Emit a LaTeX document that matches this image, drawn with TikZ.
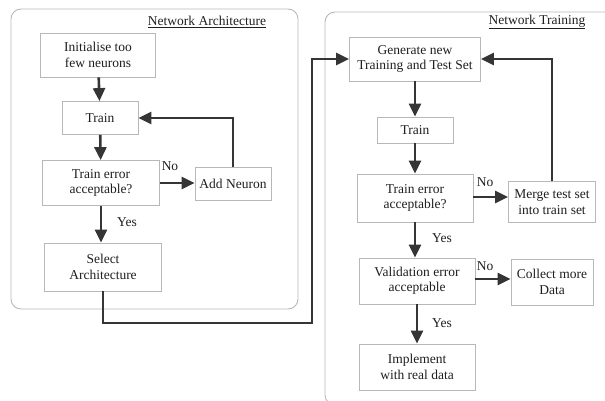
\documentclass[tikz,border=0pt]{standalone}
\usepackage{fontspec}
\setmainfont{Liberation Serif}
\usetikzlibrary{arrows.meta}
\definecolor{ink}{HTML}{1F1F1F}
\definecolor{frame}{HTML}{B8B8B8}
\begin{document}
\begin{tikzpicture}[x=1pt,y=-1pt,
  every node/.style={font=\fontsize{13.5}{15.5}\selectfont, text=ink},
  box/.style={draw=frame, line width=0.8pt, fill=white, align=center, inner sep=2pt},
  flow/.style={draw=ink!90, line width=2.6pt, -{Triangle[length=13pt,width=12pt]}},
  panel/.style={draw=frame, line width=0.9pt, rounded corners=10pt}]
\useasboundingbox (0,0) rectangle (605,401);

% panels
\draw[panel] (11,9) rectangle (298,309);
\draw[panel] (325,12) rectangle (625,405);
\node (archtitle) at (207,22) {\underline{Network Architecture}};
\node (traintitle) at (537,22) {\underline{Network Training}};

% architecture search
\node[box, minimum width=115pt, minimum height=44pt] (init) at (98,55) {Initialise too\\ few neurons};
\node[box, minimum width=76pt, minimum height=33pt] (trainA) at (100,118) {Train};
\node[box, minimum width=117pt, minimum height=45pt] (errA) at (101,183) {Train error\\ acceptable?};
\node[box, minimum width=76pt, minimum height=33pt] (addn) at (233,184) {Add Neuron};
\node[box, minimum width=117pt, minimum height=48pt] (select) at (103,267) {Select\\ Architecture};

% training loop
\node[box, minimum width=131pt, minimum height=44pt] (gen) at (415,59) {Generate new\\ Training and Test Set};
\node[box, minimum width=76pt, minimum height=26pt] (trainB) at (415,130) {Train};
\node[box, minimum width=116pt, minimum height=48pt] (errB) at (415,198) {Train error\\ acceptable?};
\node[box, minimum width=87pt, minimum height=41pt] (merge) at (552,202) {Merge test set\\ into train set};
\node[box, minimum width=116pt, minimum height=46pt] (valid) at (417,281) {Validation error\\ acceptable};
\node[box, minimum width=82pt, minimum height=46pt] (collect) at (552,282) {Collect more\\ Data};
\node[box, minimum width=116pt, minimum height=46pt] (impl) at (417,367) {Implement\\ with real data};

\node (noA) at (170,166) {No};
\node (yesA) at (127,222) {Yes};
\node (noB) at (485,182) {No};
\node (yesB) at (442,238) {Yes};
\node (noC) at (485,266) {No};
\node (yesC) at (442,323) {Yes};

\coordinate (jog) at (312,323);

\draw[flow] (init) -- (trainA);
\draw[flow] (trainA) -- (errA);
\draw[flow] (errA.east) -- (errA.east -| addn.west);
\draw[flow] (errA) -- (errA |- select.north);
\draw[flow] (addn.north) |- (trainA.east);
\draw[flow] (select.south) |- (jog) |- (gen.west);

\draw[flow] (gen) -- (trainB);
\draw[flow] (trainB) -- (errB);
\draw[flow] ([yshift=1pt]errB.east) -- ([yshift=1pt]errB.east -| merge.west);
\draw[flow] (merge.north) |- (gen.east);
\draw[flow] (errB) -- (errB |- valid.north);
\draw[flow] ([yshift=2pt]valid.east) -- ([yshift=2pt]valid.east -| collect.west);
\draw[flow] (valid) -- (impl);
\end{tikzpicture}
\end{document}
